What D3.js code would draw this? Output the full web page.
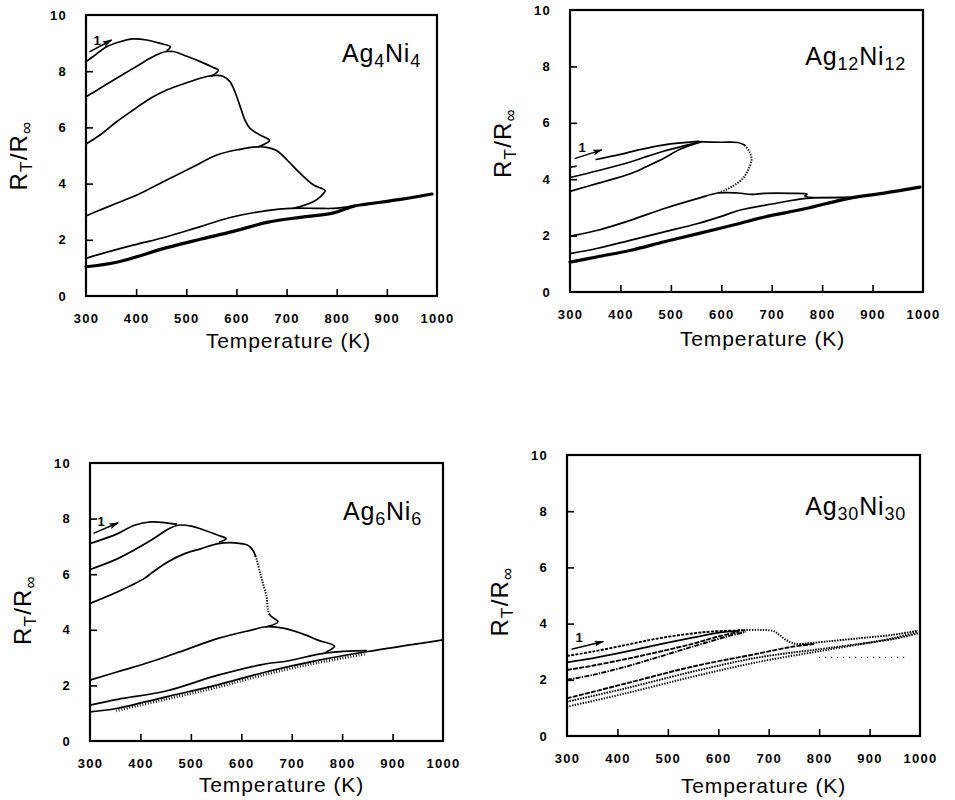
<!DOCTYPE html>
<html><head><meta charset="utf-8">
<script src="https://cdn.jsdelivr.net/npm/d3@7"></script>
<style>
body{margin:0;background:#fff;}
svg{display:block;}
text{font-family:"Liberation Sans",Arial,Helvetica,sans-serif;fill:#000;}
</style></head><body>
<svg id="chart" width="955" height="800"></svg>
<script>
// ---------- axis values ----------
const xLabelValues = [300,400,500,600,700,800,900,1000];
const xTickValues  = [400,500,600,700,800,900];
const yLabelValues = [0,2,4,6,8,10];
const yTickValues  = [2,4,6,8];
const xTitle = "Temperature (K)";
const alloyNames = [["Ag","4","Ni","4"],["Ag","12","Ni","12"],["Ag","6","Ni","6"],["Ag","30","Ni","30"]];

// ---------- Ag4Ni4 : [T (K), R_T/R_inf] ----------
const ag4Cycle1 = [[300,8.34],[315,8.53],[341,8.87],[368,9.05],[394,9.15],[421,9.11],[448,8.99],[468,8.87],[462,8.74]];
const ag4Cycle2 = [[300,7.09],[328,7.39],[361,7.75],[394,8.10],[428,8.46],[448,8.64],[461,8.70],[474,8.70],[501,8.53],[528,8.34],[554,8.13],[564,8.04],[551,7.83]];
const ag4Cycle3 = [[300,5.41],[328,5.73],[361,6.20],[394,6.62],[428,7.03],[461,7.33],[501,7.59],[541,7.81],[561,7.85],[574,7.81],[587,7.63],[597,7.27],[604,6.92],[611,6.56],[617,6.26],[627,5.97],[647,5.73],[661,5.61],[666,5.53],[644,5.31]];
const ag4Cycle4 = [[300,2.85],[328,3.06],[361,3.30],[408,3.65],[461,4.13],[514,4.60],[561,5.02],[607,5.22],[641,5.31],[661,5.29],[681,5.17],[701,4.84],[727,4.37],[754,3.95],[770,3.83],[777,3.75],[767,3.53],[754,3.36],[727,3.18],[714,3.12]];
const ag4Cycle5 = [[300,1.34],[328,1.49],[394,1.81],[461,2.11],[528,2.47],[594,2.82],[661,3.04],[707,3.12],[760,3.12],[794,3.12],[834,3.21]];
const ag4Base   = [[300,1.04],[361,1.20],[461,1.72],[528,2.02],[594,2.30],[661,2.62],[727,2.80],[794,2.96],[834,3.20],[860,3.27],[927,3.44],[990,3.63]];
const ag4Arrow  = [[307,8.69],[351,9.11]];

// ---------- Ag12Ni12 ----------
const ag12Start  = [[300,4.42],[312,4.46]];
const ag12Cycle1 = [[352,4.70],[400,4.88],[434,5.03],[487,5.22],[554,5.34]];
const ag12Cycle2 = [[300,4.06],[355,4.30],[421,4.62],[451,4.80],[487,5.00],[530,5.20],[554,5.30]];
const ag12Cycle3 = [[300,3.57],[355,3.85],[421,4.20],[451,4.44],[487,4.75],[517,5.05],[550,5.27],[560,5.31]];
const ag12Top    = [[554,5.33],[600,5.31],[633,5.30],[646,5.21]];
const ag12Drop   = [[646,5.21],[656,4.97],[660,4.68],[653,4.32],[643,4.03],[626,3.79],[607,3.61],[593,3.51]];
const ag12Cycle4 = [[300,1.98],[355,2.19],[421,2.55],[487,2.96],[554,3.32],[593,3.51],[633,3.51],[660,3.46],[686,3.50],[740,3.50],[770,3.47],[766,3.40],[855,3.35]];
const ag12Cycle5 = [[300,1.36],[355,1.55],[421,1.84],[487,2.13],[554,2.43],[600,2.68],[636,2.90],[700,3.12],[769,3.32],[855,3.36]];
const ag12Base   = [[300,1.06],[355,1.25],[421,1.48],[487,1.78],[554,2.07],[636,2.43],[686,2.66],[766,2.95],[855,3.33],[920,3.50],[994,3.72]];
const ag12Arrow  = [[309,4.73],[363,5.04]];

// ---------- Ag6Ni6 ----------
const ag6Cycle1 = [[300,7.10],[355,7.46],[388,7.76],[421,7.88],[454,7.84],[471,7.80]];
const ag6Cycle2 = [[300,6.17],[355,6.56],[421,7.22],[454,7.61],[474,7.76],[501,7.73],[527,7.58],[554,7.40],[570,7.28],[557,7.16]];
const ag6Cycle3 = [[300,4.95],[355,5.37],[408,5.85],[421,6.03],[454,6.44],[488,6.74],[521,6.92],[554,7.10],[587,7.13],[613,7.04],[623,6.86],[628,6.66]];
const ag6Drop   = [[628,6.66],[630,6.56],[636,6.14],[643,5.67],[650,5.19],[653,4.71],[656,4.55]];
const ag6Tail   = [[656,4.55],[660,4.47],[673,4.29],[650,4.11]];
const ag6Cycle4 = [[300,2.19],[355,2.49],[421,2.85],[488,3.27],[554,3.69],[620,3.99],[650,4.11],[686,4.05],[719,3.87],[752,3.63],[785,3.41],[769,3.21]];
const ag6Cycle5 = [[300,1.29],[355,1.50],[451,1.80],[554,2.37],[650,2.78],[686,2.86],[769,3.17],[848,3.25]];
const ag6Base   = [[300,1.05],[352,1.17],[451,1.59],[551,2.01],[650,2.49],[749,2.89],[848,3.21],[997,3.63]];
const ag6Hatch  = [[352,1.09],[451,1.51],[551,1.93],[650,2.41],[749,2.81],[848,3.14]];
const ag6Arrow  = [[307,7.47],[356,7.85]];

// ---------- Ag30Ni30 ----------
const ag30LineA = [[300,2.85],[350,3.00],[417,3.24],[483,3.48],[549,3.65],[589,3.72],[655,3.76]];
const ag30LineB = [[300,2.62],[350,2.76],[417,3.00],[483,3.26],[549,3.50],[602,3.68],[640,3.74]];
const ag30LineC = [[300,2.35],[350,2.50],[417,2.74],[483,3.00],[549,3.28],[602,3.55],[640,3.70]];
const ag30LineD = [[300,2.00],[350,2.17],[417,2.47],[483,2.82],[549,3.18],[615,3.53],[655,3.71]];
const ag30Drop  = [[640,3.76],[708,3.74],[721,3.60],[734,3.42],[748,3.30],[761,3.27],[790,3.30]];
const ag30Right = [[761,3.27],[814,3.36],[880,3.48],[946,3.60],[996,3.75]];
const ag30LineE = [[300,1.34],[417,1.87],[549,2.47],[681,2.94],[748,3.18],[790,3.27]];
const ag30LineF = [[300,1.22],[417,1.70],[549,2.29],[681,2.80],[814,3.12],[946,3.45],[996,3.65]];
const ag30LineG = [[300,1.04],[417,1.52],[549,2.11],[681,2.64],[814,3.06],[946,3.48],[996,3.71]];
const ag30Level = [[800,2.80],[970,2.80]];
const ag30Arrow = [[309,3.09],[372,3.36]];

// ---------- styles (kept apart from data) ----------
const styles = {
  solid:  {w:1.7, dash:null},
  thick:  {w:3.2, dash:null},
  dotted: {w:2.0, dash:"1.3,1.4"},
  dashed: {w:1.9, dash:"3,1.3"},
  dashdot:{w:1.9, dash:"5,1.2,1.4,1.2"},
  longdash:{w:1.9, dash:"5,1.2"},
  fine:   {w:1.9, dash:"1.6,1.1"},
  sparse: {w:1.3, dash:"1,5"},
  hatch:  {w:3.0, dash:"0.9,1.8"}
};

const panelSeries = [
  [[ag4Cycle1,"solid"],[ag4Cycle2,"solid"],[ag4Cycle3,"solid"],[ag4Cycle4,"solid"],[ag4Cycle5,"solid"],[ag4Base,"thick"]],
  [[ag12Start,"solid"],[ag12Cycle1,"solid"],[ag12Cycle2,"solid"],[ag12Cycle3,"solid"],[ag12Top,"solid"],[ag12Drop,"dotted"],[ag12Cycle4,"solid"],[ag12Cycle5,"solid"],[ag12Base,"thick"]],
  [[ag6Cycle1,"solid"],[ag6Cycle2,"solid"],[ag6Cycle3,"solid"],[ag6Drop,"dotted"],[ag6Tail,"solid"],[ag6Cycle4,"solid"],[ag6Cycle5,"solid"],[ag6Base,"solid"],[ag6Hatch,"hatch"]],
  [[ag30LineA,"dashed"],[ag30LineB,"solid"],[ag30LineC,"longdash"],[ag30LineD,"dashdot"],[ag30Drop,"dotted"],[ag30Right,"fine"],[ag30LineE,"longdash"],[ag30LineF,"fine"],[ag30LineG,"dotted"],[ag30Level,"sparse"]]
];
const panelArrows = [ag4Arrow, ag12Arrow, ag6Arrow, ag30Arrow];

// ---------- layout ----------
const layout = [
  {left:86, right:437, top:15,  bottom:296, labelRight:421, labelBase:62,  xTitleDx:27, xTitleBase:348, yTitleDy:0},
  {left:570,right:923, top:10,  bottom:292, labelRight:906, labelBase:65,  xTitleDx:16, xTitleBase:346, yTitleDy:-8},
  {left:90, right:443, top:463, bottom:741, labelRight:422, labelBase:520, xTitleDx:15, xTitleBase:792, yTitleDy:8},
  {left:567,right:920, top:455, bottom:736, labelRight:906, labelBase:515, xTitleDx:20, xTitleBase:793, yTitleDy:6}
];

const svg = d3.select("#chart");
const defs = svg.append("defs");
defs.append("marker").attr("id","ah").attr("viewBox","0 0 10 6").attr("refX",9).attr("refY",3)
  .attr("markerWidth",10).attr("markerHeight",6).attr("markerUnits","userSpaceOnUse").attr("orient","auto")
  .append("path").attr("d","M0,0 L10,3 L0,6 L2,3 Z").attr("fill","#000");

layout.forEach((L,i)=>{
  const x = d3.scaleLinear().domain([300,1000]).range([L.left,L.right]);
  const y = d3.scaleLinear().domain([0,10]).range([L.bottom,L.top]);
  const g = svg.append("g");

  // inner ticks
  const xt = g.append("g").attr("transform",`translate(0,${L.bottom})`)
    .call(d3.axisBottom(x).tickValues(xTickValues).tickSize(-7).tickFormat(""));
  xt.select(".domain").remove();
  xt.selectAll("line").attr("stroke","#000").attr("stroke-width",1.6);
  const yt = g.append("g").attr("transform",`translate(${L.left},0)`)
    .call(d3.axisRight(y).tickValues(yTickValues).tickSize(7).tickFormat(""));
  yt.select(".domain").remove();
  yt.selectAll("line").attr("stroke","#000").attr("stroke-width",1.6);

  // tick labels
  const xl = g.append("g").attr("transform",`translate(0,${L.bottom})`)
    .call(d3.axisBottom(x).tickValues(xLabelValues).tickSize(0).tickPadding(18).tickFormat(d3.format("d")));
  xl.select(".domain").remove();
  xl.selectAll("text").attr("font-size",13).attr("font-weight",700).attr("letter-spacing",1.3)
    .attr("font-family",'"Liberation Sans",Arial,sans-serif').attr("fill","#000");
  const yl = g.append("g").attr("transform",`translate(${L.left},0)`)
    .call(d3.axisLeft(y).tickValues(yLabelValues).tickSize(0).tickPadding(19).tickFormat(d3.format("d")));
  yl.select(".domain").remove();
  yl.selectAll("text").attr("font-size",13).attr("font-weight",700).attr("letter-spacing",1.3)
    .attr("font-family",'"Liberation Sans",Arial,sans-serif').attr("fill","#000");

  // frame
  g.append("rect").attr("x",L.left).attr("y",L.top).attr("width",L.right-L.left).attr("height",L.bottom-L.top)
    .attr("fill","none").attr("stroke","#000").attr("stroke-width",2.2);

  // curves
  const line = d3.line().x(d=>x(d[0])).y(d=>y(d[1])).curve(d3.curveCatmullRom.alpha(0.5));
  g.selectAll("path.curve").data(panelSeries[i]).join("path").attr("class","curve")
    .attr("d",d=>line(d[0])).attr("fill","none").attr("stroke","#000")
    .attr("stroke-width",d=>styles[d[1]].w).attr("stroke-dasharray",d=>styles[d[1]].dash)
    .attr("stroke-linejoin","round").attr("stroke-linecap",d=>styles[d[1]].dash?"butt":"round");

  // cycle-1 arrow
  const ar = panelArrows[i];
  g.append("line").attr("x1",x(ar[0][0])).attr("y1",y(ar[0][1])).attr("x2",x(ar[1][0])).attr("y2",y(ar[1][1]))
    .attr("stroke","#000").attr("stroke-width",1.5).attr("marker-end","url(#ah)");
  g.append("text").attr("x",x(ar[0][0])+4).attr("y",y(ar[0][1])-7).attr("font-size",13).attr("font-weight",700).text("1");

  // alloy label
  const n = alloyNames[i];
  const t = g.append("text").attr("x",L.labelRight).attr("y",L.labelBase).attr("text-anchor","end")
    .attr("font-size",25).attr("letter-spacing",0.8);
  t.append("tspan").text(n[0]);
  t.append("tspan").attr("font-size",18).attr("dy",5).text(n[1]);
  t.append("tspan").attr("dy",-5).text(n[2]);
  t.append("tspan").attr("font-size",18).attr("dy",5).text(n[3]);

  // x title
  g.append("text").attr("x",(L.left+L.right)/2+L.xTitleDx).attr("y",L.xTitleBase).attr("text-anchor","middle")
    .attr("font-size",21).attr("letter-spacing",0.9).text(xTitle);

  // y title
  const yt2 = g.append("text").attr("transform",`translate(${L.left-59},${(L.top+L.bottom)/2+L.yTitleDy}) rotate(-90)`)
    .attr("text-anchor","middle").attr("font-size",24).attr("letter-spacing",1.2);
  yt2.append("tspan").text("R");
  yt2.append("tspan").attr("font-size",17).attr("dy",5).text("T");
  yt2.append("tspan").attr("dy",-5).text("/R");
  yt2.append("tspan").attr("font-size",17).attr("dy",5).text("\u221E");
});
</script>
</body></html>
